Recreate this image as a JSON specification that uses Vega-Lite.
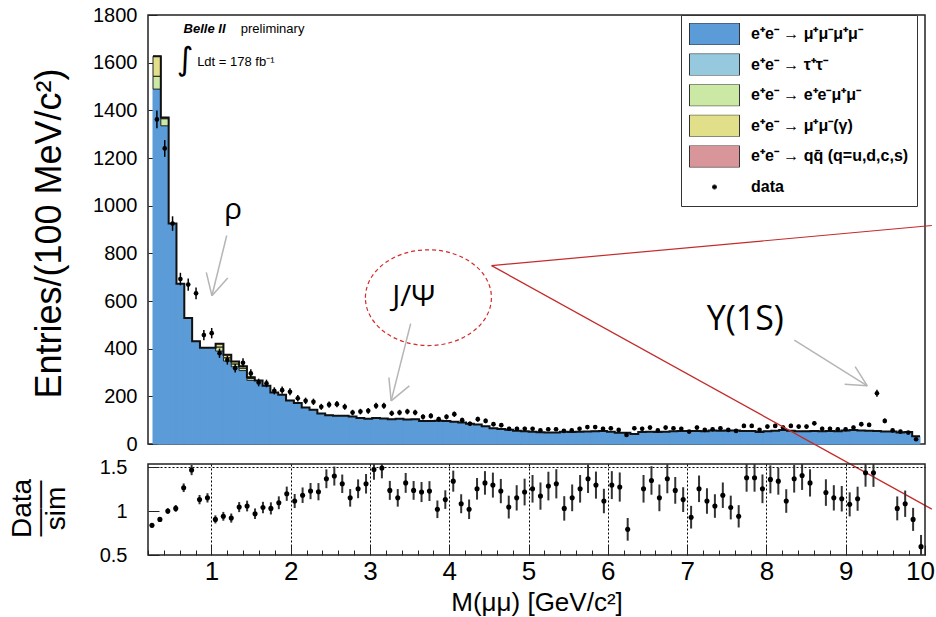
{
"$schema":"https://vega.github.io/schema/vega-lite/v6.json",
"background":"white",
"padding":{"left":7,"top":4,"right":0,"bottom":0},
"bounds":"flush",
"spacing":20,
"config":{"view":{"stroke":"#222","strokeWidth":1.5},"font":"Liberation Sans","axis":{"labelFont":"Liberation Sans","titleFont":"Liberation Sans","labelColor":"#000","titleColor":"#000","tickColor":"#222","domain":false,"titleFontWeight":"normal"}},
"datasets":{"bins":[
{"lo":0.2,"hi":0.3,"x":0.25,"a_mumu":1489,"c_eemumu":54,"d_mumug":84,"tot":1627,"n":1362,"ne":36.9,"r":0.837,"re":0.023},
{"lo":0.3,"hi":0.4,"x":0.35,"a_mumu":1335,"c_eemumu":30,"d_mumug":5,"tot":1370,"n":1240,"ne":35.2,"r":0.905,"re":0.026},
{"lo":0.4,"hi":0.5,"x":0.45,"a_mumu":925,"tot":925,"n":925,"ne":30.4,"r":1.0,"re":0.033},
{"lo":0.5,"hi":0.6,"x":0.55,"a_mumu":672,"tot":672,"n":692,"ne":26.3,"r":1.03,"re":0.039},
{"lo":0.6,"hi":0.7,"x":0.65,"a_mumu":529,"tot":529,"n":669,"ne":25.9,"r":1.265,"re":0.049},
{"lo":0.7,"hi":0.8,"x":0.75,"a_mumu":431,"tot":431,"n":632,"ne":25.1,"r":1.466,"re":0.058},
{"lo":0.8,"hi":0.9,"x":0.85,"a_mumu":404,"tot":404,"n":457,"ne":21.4,"r":1.13,"re":0.053},
{"lo":0.9,"hi":1.0,"x":0.95,"a_mumu":404,"tot":404,"n":465,"ne":21.6,"r":1.15,"re":0.053},
{"lo":1.0,"hi":1.1,"x":1.05,"a_mumu":390,"c_eemumu":17,"d_mumug":14,"tot":421,"n":381,"ne":19.5,"r":0.905,"re":0.046},
{"lo":1.1,"hi":1.2,"x":1.15,"a_mumu":348,"c_eemumu":14,"d_mumug":12,"tot":374,"n":352,"ne":18.8,"r":0.94,"re":0.05},
{"lo":1.2,"hi":1.3,"x":1.25,"a_mumu":324,"c_eemumu":12,"d_mumug":10,"tot":346,"n":318,"ne":17.8,"r":0.92,"re":0.052},
{"lo":1.3,"hi":1.4,"x":1.35,"a_mumu":308,"c_eemumu":10,"d_mumug":8,"tot":326,"n":341,"ne":18.5,"r":1.045,"re":0.057},
{"lo":1.4,"hi":1.5,"x":1.45,"a_mumu":267,"c_eemumu":8,"d_mumug":5,"tot":280,"n":296,"ne":17.2,"r":1.057,"re":0.061},
{"lo":1.5,"hi":1.6,"x":1.55,"a_mumu":266,"tot":266,"n":258,"ne":16.1,"r":0.97,"re":0.06},
{"lo":1.6,"hi":1.7,"x":1.65,"a_mumu":244,"tot":244,"n":254,"ne":15.9,"r":1.04,"re":0.065},
{"lo":1.7,"hi":1.8,"x":1.75,"a_mumu":216,"tot":216,"n":223,"ne":14.9,"r":1.03,"re":0.069},
{"lo":1.8,"hi":1.9,"x":1.85,"a_mumu":207,"tot":207,"n":226,"ne":15.0,"r":1.094,"re":0.073},
{"lo":1.9,"hi":2.0,"x":1.95,"a_mumu":183,"tot":183,"n":219,"ne":14.8,"r":1.197,"re":0.081},
{"lo":2.0,"hi":2.1,"x":2.05,"a_mumu":172,"tot":172,"n":192,"ne":13.9,"r":1.114,"re":0.08},
{"lo":2.1,"hi":2.2,"x":2.15,"a_mumu":153,"tot":153,"n":181,"ne":13.5,"r":1.18,"re":0.088},
{"lo":2.2,"hi":2.3,"x":2.25,"a_mumu":144,"tot":144,"n":177,"ne":13.3,"r":1.227,"re":0.092},
{"lo":2.3,"hi":2.4,"x":2.35,"a_mumu":128,"tot":128,"n":156,"ne":12.5,"r":1.22,"re":0.098},
{"lo":2.4,"hi":2.5,"x":2.45,"a_mumu":121,"tot":121,"n":165,"ne":12.8,"r":1.367,"re":0.107},
{"lo":2.5,"hi":2.6,"x":2.55,"a_mumu":119,"tot":119,"n":167,"ne":12.9,"r":1.398,"re":0.108},
{"lo":2.6,"hi":2.7,"x":2.65,"a_mumu":119,"tot":119,"n":156,"ne":12.5,"r":1.31,"re":0.105},
{"lo":2.7,"hi":2.8,"x":2.75,"a_mumu":115,"tot":115,"n":132,"ne":11.5,"r":1.15,"re":0.1},
{"lo":2.8,"hi":2.9,"x":2.85,"a_mumu":109,"tot":109,"n":136,"ne":11.7,"r":1.253,"re":0.107},
{"lo":2.9,"hi":3.0,"x":2.95,"a_mumu":106,"tot":106,"n":139,"ne":11.8,"r":1.31,"re":0.111},
{"lo":3.0,"hi":3.1,"x":3.05,"a_mumu":109,"tot":109,"n":160,"ne":12.6,"r":1.473,"re":0.117},
{"lo":3.1,"hi":3.2,"x":3.15,"a_mumu":107,"tot":107,"n":160,"ne":12.6,"r":1.49,"re":0.118},
{"lo":3.2,"hi":3.3,"x":3.25,"a_mumu":104,"tot":104,"n":129,"ne":11.4,"r":1.235,"re":0.108},
{"lo":3.3,"hi":3.4,"x":3.35,"a_mumu":106,"tot":106,"n":132,"ne":11.5,"r":1.15,"re":0.1},
{"lo":3.4,"hi":3.5,"x":3.45,"a_mumu":103,"tot":103,"n":136,"ne":11.7,"r":1.32,"re":0.113},
{"lo":3.5,"hi":3.6,"x":3.55,"a_mumu":104,"tot":104,"n":132,"ne":11.5,"r":1.235,"re":0.107},
{"lo":3.6,"hi":3.7,"x":3.65,"a_mumu":96,"tot":96,"n":114,"ne":10.7,"r":1.216,"re":0.114},
{"lo":3.7,"hi":3.8,"x":3.75,"a_mumu":96,"tot":96,"n":118,"ne":10.9,"r":1.227,"re":0.113},
{"lo":3.8,"hi":3.9,"x":3.85,"a_mumu":98,"tot":98,"n":104,"ne":10.2,"r":1.02,"re":0.1},
{"lo":3.9,"hi":4.0,"x":3.95,"a_mumu":97,"tot":97,"n":114,"ne":10.7,"r":1.13,"re":0.106},
{"lo":4.0,"hi":4.1,"x":4.05,"a_mumu":93,"tot":93,"n":125,"ne":11.2,"r":1.34,"re":0.12},
{"lo":4.1,"hi":4.2,"x":4.15,"a_mumu":90,"tot":90,"n":100,"ne":10.0,"r":1.083,"re":0.108},
{"lo":4.2,"hi":4.3,"x":4.25,"a_mumu":85,"tot":85,"n":85,"ne":9.2,"r":1.02,"re":0.111},
{"lo":4.3,"hi":4.4,"x":4.35,"a_mumu":82,"tot":82,"n":104,"ne":10.2,"r":1.253,"re":0.123},
{"lo":4.4,"hi":4.5,"x":4.45,"a_mumu":74,"tot":74,"n":97,"ne":9.8,"r":1.32,"re":0.134},
{"lo":4.5,"hi":4.6,"x":4.55,"a_mumu":66,"tot":66,"n":83,"ne":9.1,"r":1.295,"re":0.142},
{"lo":4.6,"hi":4.7,"x":4.65,"a_mumu":63,"tot":63,"n":79,"ne":8.9,"r":1.227,"re":0.138},
{"lo":4.7,"hi":4.8,"x":4.75,"a_mumu":60,"tot":60,"n":64,"ne":8.0,"r":1.045,"re":0.13},
{"lo":4.8,"hi":4.9,"x":4.85,"a_mumu":56,"tot":56,"n":64,"ne":8.0,"r":1.15,"re":0.144},
{"lo":4.9,"hi":5.0,"x":4.95,"a_mumu":53,"tot":53,"n":64,"ne":8.0,"r":1.216,"re":0.152},
{"lo":5.0,"hi":5.1,"x":5.05,"a_mumu":51,"tot":51,"n":64,"ne":8.0,"r":1.253,"re":0.157},
{"lo":5.1,"hi":5.2,"x":5.15,"a_mumu":49,"tot":49,"n":57,"ne":7.5,"r":1.17,"re":0.155},
{"lo":5.2,"hi":5.3,"x":5.25,"a_mumu":48,"tot":48,"n":62,"ne":7.9,"r":1.284,"re":0.163},
{"lo":5.3,"hi":5.4,"x":5.35,"a_mumu":48,"tot":48,"n":62,"ne":7.9,"r":1.31,"re":0.166},
{"lo":5.4,"hi":5.5,"x":5.45,"a_mumu":51,"tot":51,"n":55,"ne":7.4,"r":1.03,"re":0.139},
{"lo":5.5,"hi":5.6,"x":5.55,"a_mumu":50,"tot":50,"n":57,"ne":7.5,"r":1.15,"re":0.152},
{"lo":5.6,"hi":5.7,"x":5.65,"a_mumu":51,"tot":51,"n":64,"ne":8.0,"r":1.253,"re":0.157},
{"lo":5.7,"hi":5.8,"x":5.75,"a_mumu":52,"tot":52,"n":71,"ne":8.4,"r":1.367,"re":0.162},
{"lo":5.8,"hi":5.9,"x":5.85,"a_mumu":54,"tot":54,"n":71,"ne":8.4,"r":1.295,"re":0.154},
{"lo":5.9,"hi":6.0,"x":5.95,"a_mumu":55,"tot":55,"n":64,"ne":8.0,"r":1.114,"re":0.139},
{"lo":6.0,"hi":6.1,"x":6.05,"a_mumu":51,"tot":51,"n":66,"ne":8.1,"r":1.295,"re":0.159},
{"lo":6.1,"hi":6.2,"x":6.15,"a_mumu":47,"tot":47,"n":59,"ne":7.7,"r":1.273,"re":0.166},
{"lo":6.2,"hi":6.3,"x":6.25,"a_mumu":47,"tot":47,"n":38,"ne":6.2,"r":0.792,"re":0.129},
{"lo":6.3,"hi":6.4,"x":6.35,"a_mumu":42,"tot":42,"n":66,"ne":8.1},
{"lo":6.4,"hi":6.5,"x":6.45,"a_mumu":50,"tot":50,"n":64,"ne":8.0,"r":1.253,"re":0.157},
{"lo":6.5,"hi":6.6,"x":6.55,"a_mumu":51,"tot":51,"n":69,"ne":8.3,"r":1.348,"re":0.162},
{"lo":6.6,"hi":6.7,"x":6.65,"a_mumu":50,"tot":50,"n":57,"ne":7.5,"r":1.15,"re":0.152},
{"lo":6.7,"hi":6.8,"x":6.75,"a_mumu":51,"tot":51,"n":69,"ne":8.3,"r":1.367,"re":0.165},
{"lo":6.8,"hi":6.9,"x":6.85,"a_mumu":53,"tot":53,"n":66,"ne":8.1,"r":1.235,"re":0.152},
{"lo":6.9,"hi":7.0,"x":6.95,"a_mumu":55,"tot":55,"n":64,"ne":8.0,"r":1.13,"re":0.141},
{"lo":7.0,"hi":7.1,"x":7.05,"a_mumu":55,"tot":55,"n":52,"ne":7.2,"r":0.93,"re":0.129},
{"lo":7.1,"hi":7.2,"x":7.15,"a_mumu":55,"tot":55,"n":69,"ne":8.3,"r":1.253,"re":0.151},
{"lo":7.2,"hi":7.3,"x":7.25,"a_mumu":54,"tot":54,"n":59,"ne":7.7,"r":1.114,"re":0.145},
{"lo":7.3,"hi":7.4,"x":7.35,"a_mumu":57,"tot":57,"n":62,"ne":7.9,"r":1.057,"re":0.134},
{"lo":7.4,"hi":7.5,"x":7.45,"a_mumu":56,"tot":56,"n":66,"ne":8.1,"r":1.18,"re":0.145},
{"lo":7.5,"hi":7.6,"x":7.55,"a_mumu":57,"tot":57,"n":59,"ne":7.7,"r":1.04,"re":0.135},
{"lo":7.6,"hi":7.7,"x":7.65,"a_mumu":57,"tot":57,"n":55,"ne":7.4,"r":0.94,"re":0.127},
{"lo":7.7,"hi":7.8,"x":7.75,"a_mumu":55,"tot":55,"n":76,"ne":8.7,"r":1.378,"re":0.158},
{"lo":7.8,"hi":7.9,"x":7.85,"a_mumu":55,"tot":55,"n":76,"ne":8.7,"r":1.378,"re":0.158},
{"lo":7.9,"hi":8.0,"x":7.95,"a_mumu":50,"tot":50,"n":59,"ne":7.7,"r":1.253,"re":0.163},
{"lo":8.0,"hi":8.1,"x":8.05,"a_mumu":54,"tot":54,"n":73,"ne":8.5,"r":1.36,"re":0.159},
{"lo":8.1,"hi":8.2,"x":8.15,"a_mumu":56,"tot":56,"n":76,"ne":8.7,"r":1.34,"re":0.154},
{"lo":8.2,"hi":8.3,"x":8.25,"a_mumu":59,"tot":59,"n":69,"ne":8.3,"r":1.114,"re":0.134},
{"lo":8.3,"hi":8.4,"x":8.35,"a_mumu":56,"tot":56,"n":76,"ne":8.7,"r":1.367,"re":0.157},
{"lo":8.4,"hi":8.5,"x":8.45,"a_mumu":53,"tot":53,"n":73,"ne":8.5,"r":1.405,"re":0.165},
{"lo":8.5,"hi":8.6,"x":8.55,"a_mumu":54,"tot":54,"n":73,"ne":8.5,"r":1.32,"re":0.155},
{"lo":8.6,"hi":8.7,"x":8.65,"a_mumu":55,"tot":55,"n":87,"ne":9.3},
{"lo":8.7,"hi":8.8,"x":8.75,"a_mumu":53,"tot":53,"n":64,"ne":8.0,"r":1.21,"re":0.151},
{"lo":8.8,"hi":8.9,"x":8.85,"a_mumu":55,"tot":55,"n":64,"ne":8.0,"r":1.15,"re":0.144},
{"lo":8.9,"hi":9.0,"x":8.95,"a_mumu":54,"tot":54,"n":62,"ne":7.9,"r":1.14,"re":0.145},
{"lo":9.0,"hi":9.1,"x":9.05,"a_mumu":57,"tot":57,"n":62,"ne":7.9,"r":1.076,"re":0.137},
{"lo":9.1,"hi":9.2,"x":9.15,"a_mumu":59,"tot":59,"n":69,"ne":8.3,"r":1.14,"re":0.137},
{"lo":9.2,"hi":9.3,"x":9.25,"a_mumu":57,"tot":57,"n":83,"ne":9.1,"r":1.435,"re":0.158},
{"lo":9.3,"hi":9.4,"x":9.35,"a_mumu":56,"tot":56,"n":80,"ne":8.9,"r":1.435,"re":0.16},
{"lo":9.4,"hi":9.5,"x":9.45,"a_mumu":55,"tot":55,"n":213,"ne":14.6},
{"lo":9.5,"hi":9.6,"x":9.55,"a_mumu":52,"tot":52,"n":97,"ne":9.8},
{"lo":9.6,"hi":9.7,"x":9.65,"a_mumu":52,"tot":52,"n":57,"ne":7.5,"r":1.03,"re":0.136},
{"lo":9.7,"hi":9.8,"x":9.75,"a_mumu":48,"tot":48,"n":52,"ne":7.2,"r":1.083,"re":0.15},
{"lo":9.8,"hi":9.9,"x":9.85,"a_mumu":50,"tot":50,"n":48,"ne":6.9,"r":0.905,"re":0.131},
{"lo":9.9,"hi":10.0,"x":9.95,"a_mumu":32,"tot":32,"n":20,"ne":4.5,"r":0.595,"re":0.133}
]},
"vconcat":[
{"width":777,"height":429,
"layer":[
{"data":{"name":"bins"},"transform":[{"fold":["a_mumu","c_eemumu","d_mumug"],"as":["comp","cnt"]},{"filter":"datum.cnt > 0"}],
"mark":{"type":"bar","orient":"vertical","strokeWidth":1},
"encoding":{
"x":{"field":"lo","type":"quantitative","scale":{"domain":[0.2,10],"nice":false,"zero":false},"axis":null},
"x2":{"field":"hi"},
"y":{"field":"cnt","type":"quantitative","stack":"zero","title":"Entries/(100 MeV/c²)","scale":{"domain":[0,1800],"nice":false,"zero":false},
"axis":{"title":"Entries/(100 MeV/c²)","titleFontSize":36,"titleX":-88,"titleY":218,"titleAlign":"center","titleBaseline":"alphabetic","titleAngle":-90,
"values":[0,50,100,150,200,250,300,350,400,450,500,550,600,650,700,750,800,850,900,950,1000,1050,1100,1150,1200,1250,1300,1350,1400,1450,1500,1550,1600,1650,1700,1750,1800],
"labelExpr":"datum.value % 200 === 0 ? format(datum.value, 'd') : ''","labelFontSize":20,"labelPadding":20,"labelOverlap":false,"labelFlush":false,
"tickSize":{"condition":{"test":"datum.value % 200 === 0","value":-9},"value":-5},"grid":false,"domain":false}},
"color":{"field":"comp","type":"nominal","scale":{"domain":["a_mumu","b_tautau","c_eemumu","d_mumug","e_qq","f_data"],"range":["#5b9bd8","#96c8de","#cbe8a4","#e2df8a","#d9969a","#000000"]},
"legend":{"orient":"none","legendX":533,"legendY":0,"title":null,"direction":"vertical","padding":8,"strokeColor":"#333","fillColor":"#fff",
"labelFont":"Liberation Sans","labelFontSize":16,"labelFontWeight":"bold","labelColor":"#000","labelOffset":11,"labelLimit":300,
"symbolType":"M-1,-0.44H1V0.44H-1Z","symbolSize":2500,"symbolStrokeColor":"#333","symbolStrokeWidth":1,"symbolOpacity":1,"clipHeight":22,"rowPadding":8.6,
"labelExpr":"{'a_mumu':'e⁺e⁻ → μ⁺μ⁻μ⁺μ⁻','b_tautau':'e⁺e⁻ → τ⁺τ⁻','c_eemumu':'e⁺e⁻ → e⁺e⁻μ⁺μ⁻','d_mumug':'e⁺e⁻ → μ⁺μ⁻(γ)','e_qq':'e⁺e⁻ → qq̄ (q=u,d,c,s)','f_data':'data'}[datum.value]",
"encode":{"symbols":{"update":{"shape":{"signal":"datum.value === 'f_data' ? 'circle' : 'M-1,-0.44H1V0.44H-1Z'"},"size":{"signal":"datum.value === 'f_data' ? 18 : 2500"}}}}}},
"order":{"field":"comp","sort":"ascending"},
"stroke":{"condition":{"test":"datum.comp === 'a_mumu'","value":"#5b9bd8"},"value":"#222"}
}},
{"data":{"name":"bins"},"transform":[{"fold":["lo","hi"],"as":["edge","ex"]}],
"mark":{"type":"line","color":"#111","strokeWidth":2},
"encoding":{"x":{"field":"ex","type":"quantitative","scale":{"domain":[0.2,10],"nice":false,"zero":false},"axis":null},
"y":{"field":"tot","type":"quantitative","title":"Entries/(100 MeV/c²)","scale":{"domain":[0,1800],"nice":false,"zero":false}},
"order":[{"field":"ex","type":"quantitative"},{"field":"edge","type":"nominal"}]}},
{"data":{"name":"bins"},"mark":{"type":"errorbar","color":"#000","thickness":1.5},
"encoding":{"x":{"field":"x","type":"quantitative","scale":{"domain":[0.2,10],"nice":false,"zero":false},"axis":null},
"y":{"field":"n","type":"quantitative","title":"Entries/(100 MeV/c²)","scale":{"domain":[0,1800],"nice":false,"zero":false}},"yError":{"field":"ne"}}},
{"data":{"name":"bins"},"mark":{"type":"circle","color":"#000","size":22,"opacity":1},
"encoding":{"x":{"field":"x","type":"quantitative","scale":{"domain":[0.2,10],"nice":false,"zero":false},"axis":null},
"y":{"field":"n","type":"quantitative","title":"Entries/(100 MeV/c²)","scale":{"domain":[0,1800],"nice":false,"zero":false}}}},
{"data":{"values":[{}]},"mark":{"type":"text","text":"Belle II","font":"Liberation Sans","fontSize":13,"fontWeight":"bold","fontStyle":"italic","align":"left","baseline":"middle","color":"#000"},
"encoding":{"x":{"datum":0.591,"type":"quantitative","scale":{"domain":[0.2,10],"nice":false,"zero":false},"axis":null},"y":{"datum":1740,"type":"quantitative","title":"Entries/(100 MeV/c²)","scale":{"domain":[0,1800],"nice":false,"zero":false}}}},
{"data":{"values":[{}]},"mark":{"type":"text","text":"preliminary","font":"Liberation Sans","fontSize":13,"align":"left","baseline":"middle","color":"#000"},
"encoding":{"x":{"datum":1.322,"type":"quantitative","scale":{"domain":[0.2,10],"nice":false,"zero":false},"axis":null},"y":{"datum":1740,"type":"quantitative","title":"Entries/(100 MeV/c²)","scale":{"domain":[0,1800],"nice":false,"zero":false}}}},
{"data":{"values":[{}]},"mark":{"type":"text","text":"∫","font":"DejaVu Sans","fontSize":32,"align":"center","baseline":"middle","color":"#000"},
"encoding":{"x":{"datum":0.61,"type":"quantitative","scale":{"domain":[0.2,10],"nice":false,"zero":false},"axis":null},"y":{"datum":1611,"type":"quantitative","title":"Entries/(100 MeV/c²)","scale":{"domain":[0,1800],"nice":false,"zero":false}}}},
{"data":{"values":[{}]},"mark":{"type":"text","text":"Ldt = 178 fb⁻¹","font":"Liberation Sans","fontSize":13,"align":"left","baseline":"middle","color":"#000"},
"encoding":{"x":{"datum":0.764,"type":"quantitative","scale":{"domain":[0.2,10],"nice":false,"zero":false},"axis":null},"y":{"datum":1601,"type":"quantitative","title":"Entries/(100 MeV/c²)","scale":{"domain":[0,1800],"nice":false,"zero":false}}}},
{"data":{"values":[{}]},"mark":{"type":"text","text":"ρ","font":"Open Sans","fontSize":30,"align":"center","baseline":"alphabetic","color":"#000"},
"encoding":{"x":{"datum":1.222,"type":"quantitative","scale":{"domain":[0.2,10],"nice":false,"zero":false},"axis":null},"y":{"datum":946,"type":"quantitative","title":"Entries/(100 MeV/c²)","scale":{"domain":[0,1800],"nice":false,"zero":false}}}},
{"data":{"values":[{}]},"mark":{"type":"text","text":"J/Ψ","font":"Open Sans","fontSize":30,"align":"center","baseline":"alphabetic","color":"#000"},
"encoding":{"x":{"datum":3.53,"type":"quantitative","scale":{"domain":[0.2,10],"nice":false,"zero":false},"axis":null},"y":{"datum":580,"type":"quantitative","title":"Entries/(100 MeV/c²)","scale":{"domain":[0,1800],"nice":false,"zero":false}}}},
{"data":{"values":[{}]},"mark":{"type":"text","text":"Y(1S)","font":"Open Sans","fontSize":34,"align":"center","baseline":"alphabetic","color":"#000"},
"encoding":{"x":{"datum":7.767,"type":"quantitative","scale":{"domain":[0.2,10],"nice":false,"zero":false},"axis":null},"y":{"datum":479,"type":"quantitative","title":"Entries/(100 MeV/c²)","scale":{"domain":[0,1800],"nice":false,"zero":false}}}},
{"data":{"values":[{}]},"mark":{"type":"point","shape":"M-1,0A1,0.76,0,1,1,1,0A1,0.76,0,1,1,-1,0Z","size":15876,"filled":false,"stroke":"#d42a2a","strokeWidth":1.2,"strokeDash":[4,3],"opacity":1},
"encoding":{"x":{"datum":3.719,"type":"quantitative","scale":{"domain":[0.2,10],"nice":false,"zero":false},"axis":null},"y":{"datum":614,"type":"quantitative","title":"Entries/(100 MeV/c²)","scale":{"domain":[0,1800],"nice":false,"zero":false}}}},
{"data":{"values":[{}]},"mark":{"type":"rule","color":"#b5b5b5","strokeWidth":1.5},"encoding":{"x":{"datum":1.142,"type":"quantitative","scale":{"domain":[0.2,10],"nice":false,"zero":false},"axis":null},"y":{"datum":875,"type":"quantitative","title":"Entries/(100 MeV/c²)","scale":{"domain":[0,1800],"nice":false,"zero":false}},"x2":{"datum":0.953},"y2":{"datum":622}}},
{"data":{"values":[{}]},"mark":{"type":"rule","color":"#b5b5b5","strokeWidth":1.5},"encoding":{"x":{"datum":0.953,"type":"quantitative","scale":{"domain":[0.2,10],"nice":false,"zero":false},"axis":null},"y":{"datum":622,"type":"quantitative","title":"Entries/(100 MeV/c²)","scale":{"domain":[0,1800],"nice":false,"zero":false}},"x2":{"datum":0.881},"y2":{"datum":720}}},
{"data":{"values":[{}]},"mark":{"type":"rule","color":"#b5b5b5","strokeWidth":1.5},"encoding":{"x":{"datum":0.953,"type":"quantitative","scale":{"domain":[0.2,10],"nice":false,"zero":false},"axis":null},"y":{"datum":622,"type":"quantitative","title":"Entries/(100 MeV/c²)","scale":{"domain":[0,1800],"nice":false,"zero":false}},"x2":{"datum":1.155},"y2":{"datum":697}}},
{"data":{"values":[{}]},"mark":{"type":"rule","color":"#b5b5b5","strokeWidth":1.5},"encoding":{"x":{"datum":3.492,"type":"quantitative","scale":{"domain":[0.2,10],"nice":false,"zero":false},"axis":null},"y":{"datum":505,"type":"quantitative","title":"Entries/(100 MeV/c²)","scale":{"domain":[0,1800],"nice":false,"zero":false}},"x2":{"datum":3.243},"y2":{"datum":181}}},
{"data":{"values":[{}]},"mark":{"type":"rule","color":"#b5b5b5","strokeWidth":1.5},"encoding":{"x":{"datum":3.243,"type":"quantitative","scale":{"domain":[0.2,10],"nice":false,"zero":false},"axis":null},"y":{"datum":181,"type":"quantitative","title":"Entries/(100 MeV/c²)","scale":{"domain":[0,1800],"nice":false,"zero":false}},"x2":{"datum":3.214},"y2":{"datum":279}}},
{"data":{"values":[{}]},"mark":{"type":"rule","color":"#b5b5b5","strokeWidth":1.5},"encoding":{"x":{"datum":3.243,"type":"quantitative","scale":{"domain":[0.2,10],"nice":false,"zero":false},"axis":null},"y":{"datum":181,"type":"quantitative","title":"Entries/(100 MeV/c²)","scale":{"domain":[0,1800],"nice":false,"zero":false}},"x2":{"datum":3.475},"y2":{"datum":244}}},
{"data":{"values":[{}]},"mark":{"type":"rule","color":"#b5b5b5","strokeWidth":1.5},"encoding":{"x":{"datum":8.394,"type":"quantitative","scale":{"domain":[0.2,10],"nice":false,"zero":false},"axis":null},"y":{"datum":436,"type":"quantitative","title":"Entries/(100 MeV/c²)","scale":{"domain":[0,1800],"nice":false,"zero":false}},"x2":{"datum":9.327},"y2":{"datum":244}}},
{"data":{"values":[{}]},"mark":{"type":"rule","color":"#b5b5b5","strokeWidth":1.5},"encoding":{"x":{"datum":9.327,"type":"quantitative","scale":{"domain":[0.2,10],"nice":false,"zero":false},"axis":null},"y":{"datum":244,"type":"quantitative","title":"Entries/(100 MeV/c²)","scale":{"domain":[0,1800],"nice":false,"zero":false}},"x2":{"datum":9.037},"y2":{"datum":251}}},
{"data":{"values":[{}]},"mark":{"type":"rule","color":"#b5b5b5","strokeWidth":1.5},"encoding":{"x":{"datum":9.327,"type":"quantitative","scale":{"domain":[0.2,10],"nice":false,"zero":false},"axis":null},"y":{"datum":244,"type":"quantitative","title":"Entries/(100 MeV/c²)","scale":{"domain":[0,1800],"nice":false,"zero":false}},"x2":{"datum":9.171},"y2":{"datum":325}}},
{"data":{"values":[{}]},"mark":{"type":"rule","color":"#c42a2a","strokeWidth":1.2},"encoding":{"x":{"datum":4.526,"type":"quantitative","scale":{"domain":[0.2,10],"nice":false,"zero":false},"axis":null},"y":{"datum":748.5,"type":"quantitative","title":"Entries/(100 MeV/c²)","scale":{"domain":[0,1800],"nice":false,"zero":false}},"x2":{"datum":10.151},"y2":{"datum":916.7}}},
{"data":{"values":[{}]},"mark":{"type":"rule","color":"#c42a2a","strokeWidth":1.2},"encoding":{"x":{"datum":4.526,"type":"quantitative","scale":{"domain":[0.2,10],"nice":false,"zero":false},"axis":null},"y":{"datum":748.5,"type":"quantitative","title":"Entries/(100 MeV/c²)","scale":{"domain":[0,1800],"nice":false,"zero":false}},"x2":{"datum":10.151},"y2":{"datum":-273.3}}}
]},
{"width":777,"height":91,
"encoding":{
"x":{"field":"x","type":"quantitative","scale":{"domain":[0.2,10],"nice":false,"zero":false},
"axis":{"title":"M(μμ) [GeV/c²]","titleFontSize":26,"titlePadding":0,
"values":[0.2,0.4,0.6,0.8,1,1.2,1.4,1.6,1.8,2,2.2,2.4,2.6,2.8,3,3.2,3.4,3.6,3.8,4,4.2,4.4,4.6,4.8,5,5.2,5.4,5.6,5.8,6,6.2,6.4,6.6,6.8,7,7.2,7.4,7.6,7.8,8,8.2,8.4,8.6,8.8,9,9.2,9.4,9.6,9.8,10],
"labelExpr":"datum.value % 1 === 0 ? format(datum.value, 'd') : ''","labelFontSize":26,"labelPadding":13,"labelOverlap":false,"labelFlush":false,
"labelOffset":{"condition":{"test":"datum.value === 10","value":-5},"value":0},
"tickSize":{"condition":{"test":"datum.value % 1 === 0","value":-10},"value":-5},
"grid":true,"gridColor":"#000","gridDash":[2,2],"gridWidth":1,"gridOpacity":{"condition":{"test":"datum.value % 1 === 0 && datum.value < 10","value":1},"value":0},"domain":false}},
"y":{"field":"r","type":"quantitative","scale":{"domain":[0.5,1.535],"nice":false,"zero":false},
"axis":{"title":["Data","——","sim"],"titleFontSize":28,"titleAngle":-90,"titleAlign":"center","titleBaseline":"alphabetic","titleX":-118,"titleY":44,"titleLineHeight":17,
"values":[0.5,1,1.5],"labelExpr":"datum.value === 1 ? '1' : format(datum.value, '.1f')","labelFontSize":20,"labelPadding":32,"labelOverlap":false,"labelFlush":false,"tickSize":-11,
"grid":true,"gridColor":"#000","gridDash":[2,2],"gridWidth":1,"gridOpacity":{"condition":{"test":"datum.value === 1.5","value":1},"value":0},"domain":false}}
},
"layer":[
{"data":{"values":[{}]},"mark":{"type":"rule","color":"#e8262a","strokeWidth":1.5},"encoding":{"x":{"datum":0.2,"type":"quantitative"},"x2":{"datum":10},"y":{"datum":1,"type":"quantitative"}}},
{"data":{"name":"bins"},"transform":[{"filter":"isValid(datum.r)"}],"mark":{"type":"errorbar","color":"#333","thickness":2,"clip":true},"encoding":{"yError":{"field":"re"}}},
{"data":{"name":"bins"},"transform":[{"filter":"isValid(datum.r)"}],"mark":{"type":"circle","color":"#000","size":26,"opacity":1,"clip":true}}
]}
]
}
